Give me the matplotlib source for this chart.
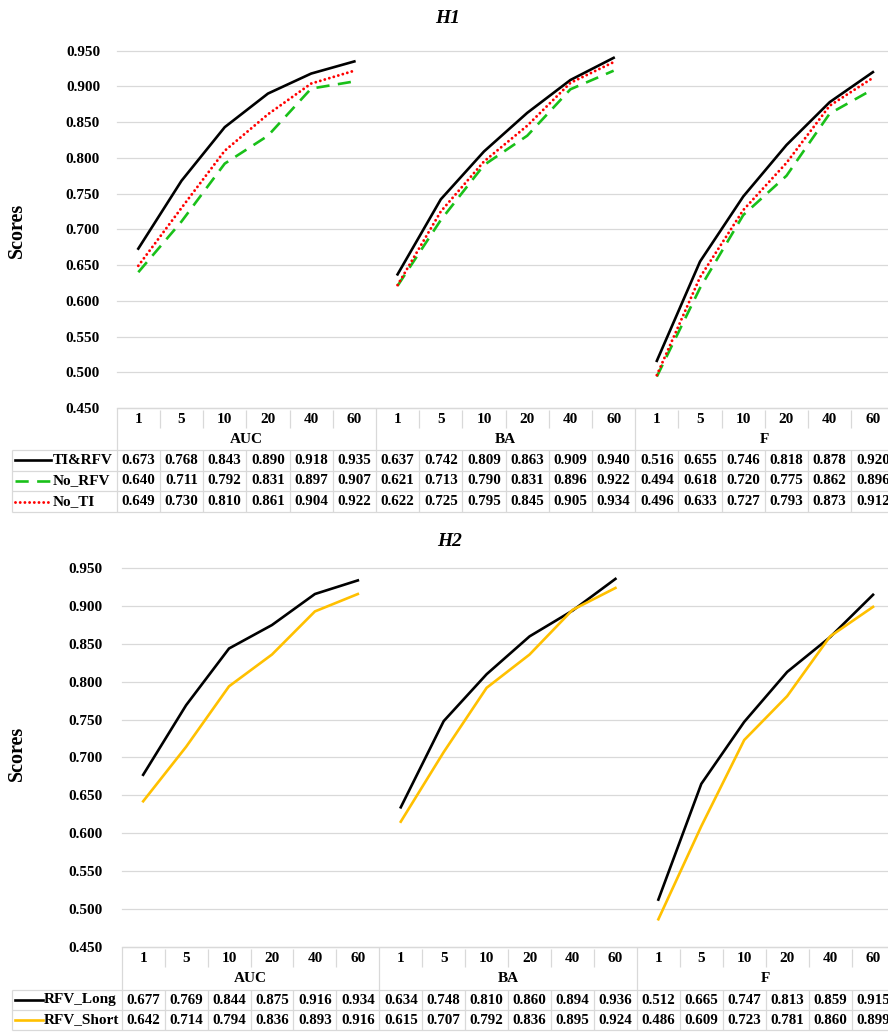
import numpy as np
import matplotlib.pyplot as plt
from matplotlib.lines import Line2D

plt.rcParams['font.family'] = ['Liberation Serif', 'DejaVu Serif']
plt.rcParams['font.weight'] = 'bold'

W, H = 888, 1034
RIGHT = 894.5          # plot area runs a little past the right edge (cropped)
GRID = '#d9d9d9'

# --- data ---
metrics = ['AUC', 'BA', 'F']
n_feat = ['1', '5', '10', '20', '40', '60']
yticks = [0.450, 0.500, 0.550, 0.600, 0.650, 0.700, 0.750, 0.800, 0.850, 0.900, 0.950]

h1_names = ['TI&RFV', 'No_RFV', 'No_TI']
ti_rfv = [0.673, 0.768, 0.843, 0.890, 0.918, 0.935,
          0.637, 0.742, 0.809, 0.863, 0.909, 0.940,
          0.516, 0.655, 0.746, 0.818, 0.878, 0.920]
no_rfv = [0.640, 0.711, 0.792, 0.831, 0.897, 0.907,
          0.621, 0.713, 0.790, 0.831, 0.896, 0.922,
          0.494, 0.618, 0.720, 0.775, 0.862, 0.896]
no_ti = [0.649, 0.730, 0.810, 0.861, 0.904, 0.922,
         0.622, 0.725, 0.795, 0.845, 0.905, 0.934,
         0.496, 0.633, 0.727, 0.793, 0.873, 0.912]

h2_names = ['RFV_Long', 'RFV_Short']
rfv_long = [0.677, 0.769, 0.844, 0.875, 0.916, 0.934,
            0.634, 0.748, 0.810, 0.860, 0.894, 0.936,
            0.512, 0.665, 0.747, 0.813, 0.859, 0.915]
rfv_short = [0.642, 0.714, 0.794, 0.836, 0.893, 0.916,
             0.615, 0.707, 0.792, 0.836, 0.895, 0.924,
             0.486, 0.609, 0.723, 0.781, 0.860, 0.899]

h1_styles = [dict(color='black', lw=1.9, ls='-'),
             dict(color='#19c019', lw=1.9, ls=(0, (5, 3.2))),
             dict(color='#ff0000', lw=2.1, ls=(0, (0.01, 1.6)), dash_capstyle='round')]
h2_styles = [dict(color='black', lw=1.9, ls='-'),
             dict(color='#ffc000', lw=1.9, ls='-')]

fig = plt.figure(figsize=(W / 100, H / 100), dpi=100)


def box(l, t, r, b):
    return [l / W, 1 - b / H, (r - l) / W, (b - t) / H]


def panel(left, top, bottom, rows, title, title_xy, score_y, tick_pad,
          names, series, styles, leg_px):
    ax = fig.add_axes(box(left, top, RIGHT, bottom))
    ax.set_xlim(0, 18)
    ax.set_ylim(0.45, 0.95)
    for s in ax.spines.values():
        s.set_visible(False)
    ax.set_xticks([])
    ax.set_yticks(yticks)
    ax.set_yticklabels(['%.3f' % v for v in yticks], fontsize=11, fontweight='bold')
    ax.tick_params(axis='y', length=0, pad=tick_pad)
    ax.grid(axis='y', color=GRID, lw=0.9)
    for gl in ax.get_ygridlines():
        gl.set_clip_on(False)
    ax.set_axisbelow(True)

    for vals, st in zip(series, styles):
        for g in range(3):
            xs = np.arange(6) + g * 6 + 0.5
            ax.plot(xs, vals[g * 6:(g + 1) * 6], **st)

    fig.text(title_xy[0] / W, 1 - title_xy[1] / H, title, ha='center', va='center',
             fontsize=14, fontweight='bold', style='italic')
    fig.text(17 / W, 1 - score_y / H, 'Scores', rotation=90, ha='center', va='center',
             fontsize=14.5, fontweight='bold')

    # data table under the plot
    tab = fig.add_axes(box(left, bottom, RIGHT, bottom + rows[-1]))
    tab.set_xlim(0, 18)
    tab.set_ylim(rows[-1], 0)
    tab.axis('off')
    w = (RIGHT - left) / 18
    xl = (11.7 - left) / w
    kw = dict(color=GRID, lw=0.9, clip_on=False)

    tab.hlines(0, 0, 18, **kw)
    for c in range(1, 18):
        if c % 6:
            tab.vlines(c, 2, rows[1] - 1, **kw)
    tab.vlines([0, 6, 12, 18], 0, rows[2], **kw)
    tab.hlines(rows[2:], xl, 18, **kw)
    tab.vlines([xl] + list(range(19)), rows[2], rows[-1], **kw)

    yc = (rows[0] + rows[1]) / 2 + 1
    for c in range(18):
        tab.text(c + 0.5, yc, n_feat[c % 6], ha='center', va='center', fontsize=11,
                 clip_on=False)
    yc = (rows[1] + rows[2]) / 2
    for g, m in enumerate(metrics):
        tab.text(g * 6 + 3, yc, m, ha='center', va='center', fontsize=11)

    for i, (nm, vals, st) in enumerate(zip(names, series, styles)):
        yc = (rows[2 + i] + rows[3 + i]) / 2
        for c in range(18):
            tab.text(c + 0.5, yc, '%.3f' % vals[c], ha='center', va='center',
                     fontsize=10.8)
        x0, x1, xt = [(p - left) / w for p in leg_px]
        tab.add_line(Line2D([x0, x1], [yc, yc], clip_on=False, **st))
        tab.text(xt, yc, nm, ha='left', va='center', fontsize=11, clip_on=False)


panel(116.7, 50.7, 408, [0, 21, 42, 62.7, 83.3, 104], 'H1', (448, 18), 230, 12,
      h1_names, [ti_rfv, no_rfv, no_ti], h1_styles, (15, 51, 53))
panel(121.7, 568.3, 946.5, [0, 21, 43.5, 63.5, 83.5], 'H2', (450, 542), 753, 13.5,
      h2_names, [rfv_long, rfv_short], h2_styles, (15, 43, 44))

fig.savefig('out.png', dpi=100)
